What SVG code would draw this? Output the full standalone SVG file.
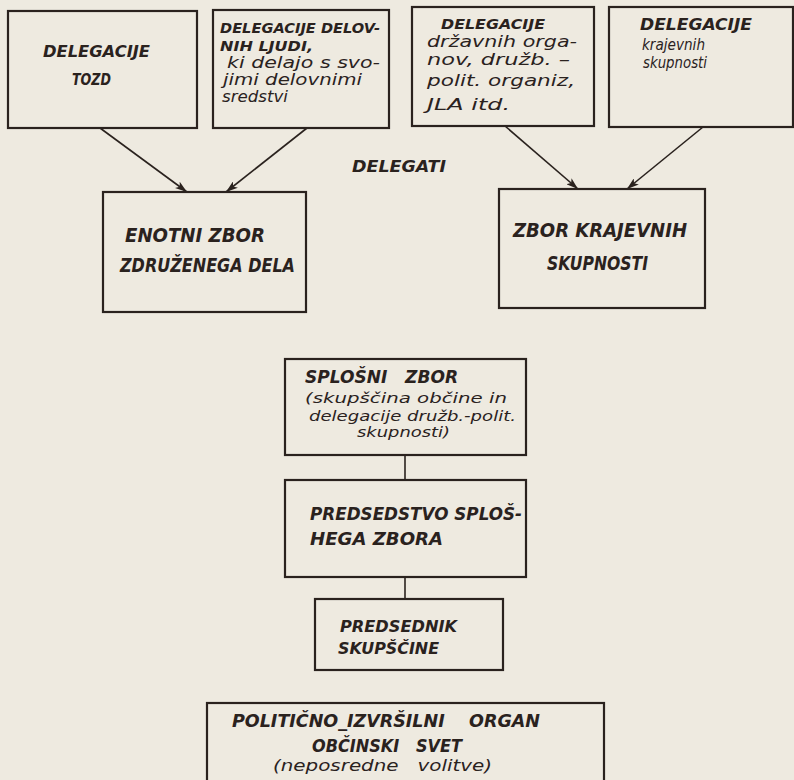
<svg xmlns="http://www.w3.org/2000/svg" width="794" height="780" viewBox="0 0 794 780">
<defs>
<style>
.bx{fill:none;stroke:#2a221e;stroke-width:2.2}
.ln{fill:none;stroke:#2a221e;stroke-width:1.6}
.C{font-family:"DejaVu Sans",sans-serif;font-weight:bold;font-style:oblique;fill:#2a221e}
.l{font-family:"DejaVu Sans",sans-serif;font-style:oblique;fill:#2a221e}
</style>
<marker id="ah" viewBox="0 0 12 8" refX="12" refY="4" markerWidth="12" markerHeight="8" markerUnits="userSpaceOnUse" orient="auto">
<path d="M0,0 L12,4 L0,8 L3,4 Z" fill="#2a221e"/>
</marker>
</defs>
<rect width="794" height="780" fill="#eeeae0"/>
<g id="connectors">
<line class="ln" x1="100" y1="128" x2="187" y2="192" marker-end="url(#ah)"/>
<line class="ln" x1="307" y1="128" x2="226" y2="192" marker-end="url(#ah)"/>
<line class="ln" x1="505" y1="126" x2="578" y2="189" marker-end="url(#ah)"/>
<line class="ln" x1="703" y1="127" x2="627" y2="189" marker-end="url(#ah)"/>
<line class="ln" x1="405" y1="455" x2="405" y2="480"/>
<line class="ln" x1="405" y1="577" x2="405" y2="599"/>
<text class="C" x="352" y="172" font-size="15" textLength="94" lengthAdjust="spacingAndGlyphs">DELEGATI</text>
</g>
<g id="n1">
<rect class="bx" x="8" y="11" width="189" height="117"/>
<text class="C" x="43" y="57" font-size="16" textLength="107" lengthAdjust="spacingAndGlyphs">DELEGACIJE</text>
<text class="C" x="72" y="85" font-size="16" textLength="39" lengthAdjust="spacingAndGlyphs">TOZD</text>
</g>
<g id="n2">
<rect class="bx" x="213" y="10" width="176" height="118"/>
<text class="C" x="220" y="33" font-size="14" textLength="160" lengthAdjust="spacingAndGlyphs">DELEGACIJE DELOV-</text>
<text class="C" x="220" y="51" font-size="14" textLength="93" lengthAdjust="spacingAndGlyphs">NIH LJUDI,</text>
<text class="l" x="227" y="68" font-size="15" textLength="153" lengthAdjust="spacingAndGlyphs">ki delajo s svo-</text>
<text class="l" x="223" y="85" font-size="15" textLength="139" lengthAdjust="spacingAndGlyphs">jimi delovnimi</text>
<text class="l" x="222" y="102" font-size="15" textLength="66" lengthAdjust="spacingAndGlyphs">sredstvi</text>
</g>
<g id="n3">
<rect class="bx" x="412" y="7" width="182" height="119"/>
<text class="C" x="441" y="29" font-size="14" textLength="104" lengthAdjust="spacingAndGlyphs">DELEGACIJE</text>
<text class="l" x="427" y="47" font-size="15" textLength="150" lengthAdjust="spacingAndGlyphs">državnih orga-</text>
<text class="l" x="427" y="65" font-size="15" textLength="143" lengthAdjust="spacingAndGlyphs">nov, družb. –</text>
<text class="l" x="427" y="86" font-size="15" textLength="148" lengthAdjust="spacingAndGlyphs">polit. organiz,</text>
<text class="l" x="427" y="110" font-size="15" textLength="83" lengthAdjust="spacingAndGlyphs">JLA itd.</text>
</g>
<g id="n4">
<rect class="bx" x="609" y="7" width="184" height="120"/>
<text class="C" x="640" y="30" font-size="15" textLength="112" lengthAdjust="spacingAndGlyphs">DELEGACIJE</text>
<text class="l" x="642" y="50" font-size="16.5" textLength="63" lengthAdjust="spacingAndGlyphs">krajevnih</text>
<text class="l" x="643" y="68" font-size="16.5" textLength="64" lengthAdjust="spacingAndGlyphs">skupnosti</text>
</g>
<g id="n5">
<rect class="bx" x="103" y="192" width="203" height="120"/>
<text class="C" x="125" y="242" font-size="19" textLength="140" lengthAdjust="spacingAndGlyphs">ENOTNI ZBOR</text>
<text class="C" x="120" y="272" font-size="19" textLength="175" lengthAdjust="spacingAndGlyphs">ZDRUŽENEGA DELA</text>
</g>
<g id="n6">
<rect class="bx" x="499" y="189" width="206" height="119"/>
<text class="C" x="513" y="237" font-size="19" textLength="174" lengthAdjust="spacingAndGlyphs">ZBOR KRAJEVNIH</text>
<text class="C" x="547" y="270" font-size="19" textLength="101" lengthAdjust="spacingAndGlyphs">SKUPNOSTI</text>
</g>
<g id="n7">
<rect class="bx" x="285" y="359" width="241" height="96"/>
<text class="C" x="305" y="383" font-size="17" textLength="153" lengthAdjust="spacingAndGlyphs" xml:space="preserve">SPLOŠNI   ZBOR</text>
<text class="l" x="305" y="403" font-size="14.5" textLength="202" lengthAdjust="spacingAndGlyphs">(skupščina občine in</text>
<text class="l" x="309" y="421" font-size="14.5" textLength="207" lengthAdjust="spacingAndGlyphs">delegacije družb.-polit.</text>
<text class="l" x="357" y="437" font-size="14.5" textLength="93" lengthAdjust="spacingAndGlyphs">skupnosti)</text>
</g>
<g id="n8">
<rect class="bx" x="285" y="480" width="241" height="97"/>
<text class="C" x="310" y="520" font-size="17" textLength="212" lengthAdjust="spacingAndGlyphs">PREDSEDSTVO SPLOŠ-</text>
<text class="C" x="310" y="545" font-size="17" textLength="133" lengthAdjust="spacingAndGlyphs">HEGA ZBORA</text>
</g>
<g id="n9">
<rect class="bx" x="315" y="599" width="188" height="71"/>
<text class="C" x="340" y="632" font-size="16" textLength="117" lengthAdjust="spacingAndGlyphs">PREDSEDNIK</text>
<text class="C" x="338" y="654" font-size="16" textLength="101" lengthAdjust="spacingAndGlyphs">SKUPŠČINE</text>
</g>
<g id="n10">
<rect class="bx" x="207" y="703" width="397" height="82"/>
<text class="C" x="232" y="727" font-size="17" textLength="308" lengthAdjust="spacingAndGlyphs" xml:space="preserve">POLITIČNO_IZVRŠILNI    ORGAN</text>
<text class="C" x="312" y="752" font-size="17" textLength="150" lengthAdjust="spacingAndGlyphs" xml:space="preserve">OBČINSKI   SVET</text>
<text class="l" x="273" y="771" font-size="16" textLength="219" lengthAdjust="spacingAndGlyphs" xml:space="preserve">(neposredne   volitve)</text>
</g>
</svg>
